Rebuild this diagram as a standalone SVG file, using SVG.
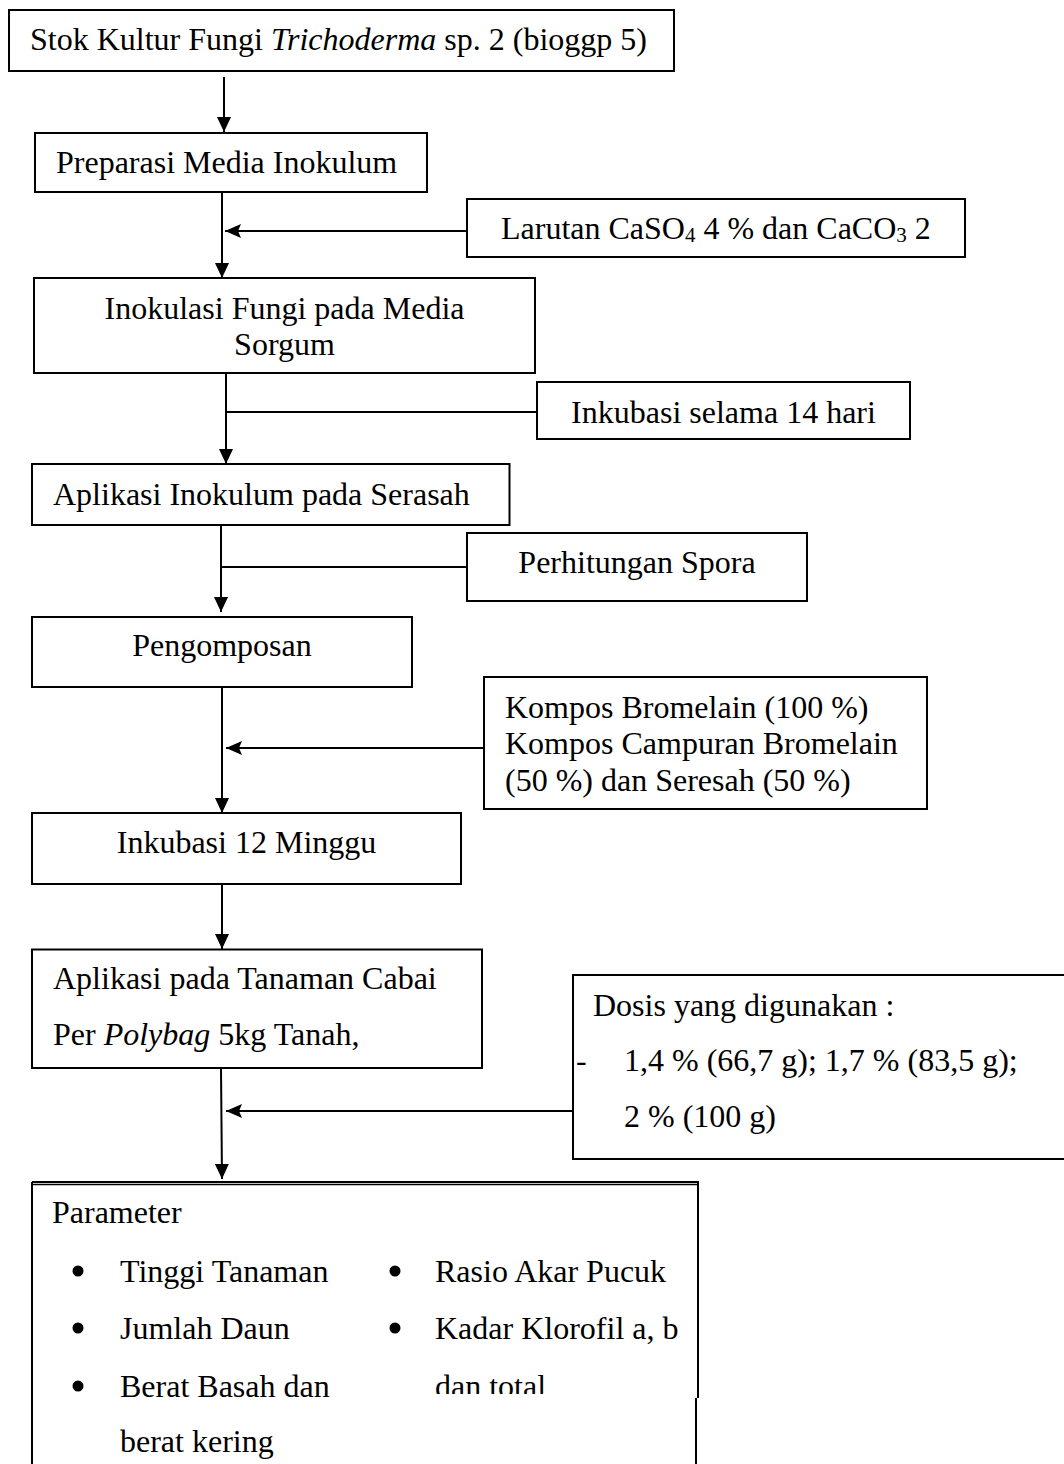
<svg xmlns="http://www.w3.org/2000/svg" width="1064" height="1464" viewBox="0 0 1064 1464">
<style>
.box{fill:#fff;stroke:#000;stroke-width:2}
.ln{fill:none;stroke:#000;stroke-width:2}
text{font-family:"Liberation Serif","Times New Roman",serif;font-size:32px;fill:#000}
.c{text-anchor:middle}
.sub{font-size:21px}
</style>
<defs>
<marker id="av" markerUnits="userSpaceOnUse" markerWidth="16" markerHeight="16" refX="15" refY="7" orient="auto">
<path d="M0,0 L15,7 L0,14 z" fill="#000"/>
</marker>
<marker id="ah" markerUnits="userSpaceOnUse" markerWidth="17" markerHeight="16" refX="16" refY="7" orient="auto">
<path d="M0,0 L16,7 L0,14 L3,7 z" fill="#000"/>
</marker>
<clipPath id="clipDan"><rect x="400" y="1340" width="290" height="54"/></clipPath>
</defs>
<rect width="1064" height="1464" fill="#fff"/>

<g id="connectors">
<path class="ln" d="M224,77 L224,132" marker-end="url(#av)"/>
<path class="ln" d="M222,192 L222,278" marker-end="url(#av)"/>
<path class="ln" d="M467,231 L225,231" marker-end="url(#ah)"/>
<path class="ln" d="M226,373 L226,464" marker-end="url(#av)"/>
<path class="ln" d="M226,412 L537,412"/>
<path class="ln" d="M221,525 L221,612" marker-end="url(#av)"/>
<path class="ln" d="M222,567 L467,567"/>
<path class="ln" d="M222,688 L222,813" marker-end="url(#av)"/>
<path class="ln" d="M484,748 L226,748" marker-end="url(#ah)"/>
<path class="ln" d="M222,884 L222,949" marker-end="url(#av)"/>
<path class="ln" d="M221,1069 L222,1179" marker-end="url(#av)"/>
<path class="ln" d="M573,1111 L226,1111" marker-end="url(#ah)"/>
</g>

<g id="n1">
<rect class="box" x="9" y="10" width="665" height="61"/>
<text x="30" y="50">Stok Kultur Fungi <tspan font-style="italic">Trichoderma</tspan> sp. 2 (bioggp 5)</text>
</g>

<g id="n2">
<rect class="box" x="35" y="133" width="392" height="59"/>
<text x="56" y="173">Preparasi Media Inokulum</text>
</g>

<g id="n3">
<rect class="box" x="467" y="199" width="498" height="58"/>
<text x="501" y="239">Larutan CaSO<tspan class="sub" dy="3">4</tspan><tspan dy="-3"> 4 % dan CaCO</tspan><tspan class="sub" dy="3">3</tspan><tspan dy="-3"> 2</tspan></text>
</g>

<g id="n4">
<rect class="box" x="34" y="278" width="501" height="95"/>
<text class="c" x="284.5" y="319">Inokulasi Fungi pada Media</text>
<text class="c" x="284.5" y="355">Sorgum</text>
</g>

<g id="n5">
<rect class="box" x="537" y="382" width="373" height="57"/>
<text class="c" x="723.5" y="423">Inkubasi selama 14 hari</text>
</g>

<g id="n6">
<rect class="box" x="32" y="464" width="477.5" height="61"/>
<text x="53" y="505">Aplikasi Inokulum pada Serasah</text>
</g>

<g id="n7">
<rect class="box" x="467" y="533" width="340" height="68"/>
<text class="c" x="637" y="573">Perhitungan Spora</text>
</g>

<g id="n8">
<rect class="box" x="32" y="617" width="380" height="70"/>
<text class="c" x="222" y="656">Pengomposan</text>
</g>

<g id="n9">
<rect class="box" x="484" y="677" width="443" height="132"/>
<text x="505" y="718">Kompos Bromelain (100 %)</text>
<text x="505" y="754">Kompos Campuran Bromelain</text>
<text x="505" y="791">(50 %) dan Seresah (50 %)</text>
</g>

<g id="n10">
<rect class="box" x="32" y="813" width="429" height="71"/>
<text class="c" x="246.5" y="853">Inkubasi 12 Minggu</text>
</g>

<g id="n11">
<rect class="box" x="32" y="949.5" width="450" height="118.5"/>
<text x="53" y="989">Aplikasi pada Tanaman Cabai</text>
<text x="53" y="1045">Per <tspan font-style="italic">Polybag</tspan> 5kg Tanah,</text>
</g>

<g id="n12">
<rect class="box" x="573" y="975" width="500" height="184"/>
<text x="593" y="1016">Dosis yang digunakan :</text>
<text x="576" y="1071">-</text>
<text x="624" y="1071">1,4 % (66,7 g); 1,7 % (83,5 g);</text>
<text x="624" y="1127">2 % (100 g)</text>
</g>

<g id="n13">
<path d="M32,1182 H698 V1398 M696,1398 V1470 M32,1182 V1470" fill="none" stroke="#000" stroke-width="2"/>
<path d="M32,1184.5 H698" fill="none" stroke="#000" stroke-width="1.5"/>
<text x="52" y="1223">Parameter</text>
<circle cx="78" cy="1271" r="5.5"/>
<text x="120" y="1282">Tinggi Tanaman</text>
<circle cx="78" cy="1328" r="5.5"/>
<text x="120" y="1339">Jumlah Daun</text>
<circle cx="78" cy="1386" r="5.5"/>
<text x="120" y="1397">Berat Basah dan</text>
<text x="120" y="1452">berat kering</text>
<circle cx="395" cy="1271" r="5.5"/>
<text x="435" y="1282">Rasio Akar Pucuk</text>
<circle cx="395" cy="1328" r="5.5"/>
<text x="435" y="1339">Kadar Klorofil a, b</text>
<text x="435" y="1397" clip-path="url(#clipDan)">dan total</text>
</g>
</svg>
